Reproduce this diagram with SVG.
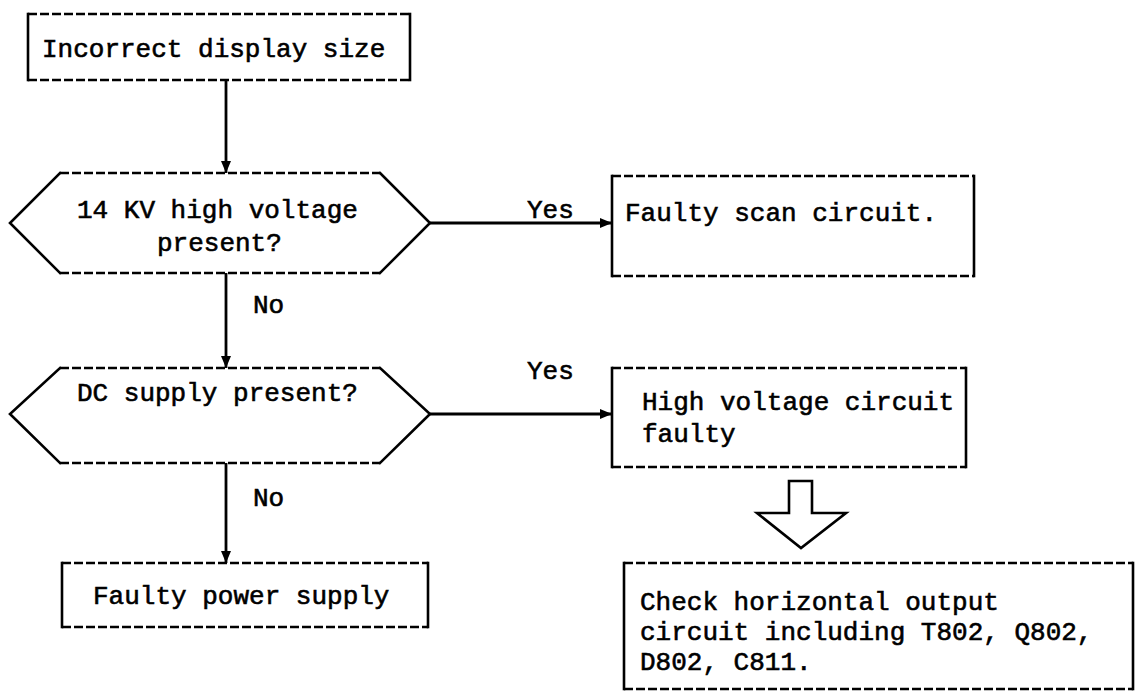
<svg xmlns="http://www.w3.org/2000/svg" width="1137" height="697" viewBox="0 0 1137 697">
  <style>
    .bg { fill: #ffffff; }
    .side { fill: none; stroke: #000; stroke-width: 2.6; stroke-linecap: square; }
    .dash { fill: none; stroke: #000; stroke-width: 2.6; stroke-dasharray: 9 3; }
    .edge { fill: none; stroke: #000; stroke-width: 2.8; }
    .hollow { fill: #fff; stroke: #000; stroke-width: 2.6; stroke-linejoin: miter; }
    text { font-family: "Liberation Mono", "DejaVu Sans Mono", monospace; font-size: 26px; fill: #000; stroke: #000; stroke-width: 0.6; }
  </style>
  <defs>
    <marker id="arrow" viewBox="0 0 12 10" refX="12" refY="5" markerWidth="12" markerHeight="10" markerUnits="userSpaceOnUse" orient="auto">
      <path d="M0,0 L12,5 L0,10 Z" fill="#000"/>
    </marker>
  </defs>

  <rect class="bg" x="0" y="0" width="1137" height="697"/>

  <!-- connectors -->
  <g id="connectors">
    <line class="edge" x1="226" y1="80" x2="226" y2="173" marker-end="url(#arrow)"/>
    <line class="edge" x1="430" y1="223" x2="612" y2="223" marker-end="url(#arrow)"/>
    <text x="527" y="218">Yes</text>
    <line class="edge" x1="226" y1="273" x2="226" y2="368" marker-end="url(#arrow)"/>
    <text x="253" y="313">No</text>
    <line class="edge" x1="430" y1="414" x2="612" y2="414" marker-end="url(#arrow)"/>
    <text x="527" y="379">Yes</text>
    <line class="edge" x1="226" y1="463" x2="226" y2="563" marker-end="url(#arrow)"/>
    <text x="253" y="506">No</text>
    <!-- hollow block arrow to the check step -->
    <polygon class="hollow" points="789,481 812,481 812,513 846,513 801,548 757,513 789,513"/>
  </g>

  <!-- start: incorrect display size -->
  <g id="start">
    <line class="dash" x1="28" y1="14" x2="410" y2="14"/>
    <line class="dash" x1="28" y1="80" x2="410" y2="80"/>
    <line class="side" x1="28" y1="14" x2="28" y2="80"/>
    <line class="side" x1="410" y1="14" x2="410" y2="80"/>
    <text x="42" y="57">Incorrect display size</text>
  </g>

  <!-- decision: 14 KV high voltage -->
  <g id="q-high-voltage">
    <line class="dash" x1="60" y1="173" x2="380" y2="173"/>
    <line class="dash" x1="60" y1="273" x2="380" y2="273"/>
    <polyline class="side" points="60,173 10,223 60,273"/>
    <polyline class="side" points="380,173 430,223 380,273"/>
    <text x="77" y="218">14 KV high voltage</text>
    <text x="157" y="251">present?</text>
  </g>

  <!-- result: faulty scan circuit -->
  <g id="faulty-scan">
    <line class="dash" x1="612" y1="176" x2="974" y2="176"/>
    <line class="dash" x1="612" y1="276" x2="974" y2="276"/>
    <line class="side" x1="612" y1="176" x2="612" y2="276"/>
    <line class="side" x1="974" y1="176" x2="974" y2="276"/>
    <text x="625" y="221">Faulty scan circuit.</text>
  </g>

  <!-- decision: DC supply -->
  <g id="q-dc-supply">
    <line class="dash" x1="60" y1="368" x2="380" y2="368"/>
    <line class="dash" x1="60" y1="463" x2="380" y2="463"/>
    <polyline class="side" points="60,368 10,414 60,463"/>
    <polyline class="side" points="380,368 430,414 380,463"/>
    <text x="77" y="401">DC supply present?</text>
  </g>

  <!-- result: high voltage circuit faulty -->
  <g id="hv-faulty">
    <line class="dash" x1="612" y1="368" x2="966" y2="368"/>
    <line class="dash" x1="612" y1="467" x2="966" y2="467"/>
    <line class="side" x1="612" y1="368" x2="612" y2="467"/>
    <line class="side" x1="966" y1="368" x2="966" y2="467"/>
    <text x="642" y="410">High voltage circuit</text>
    <text x="642" y="442">faulty</text>
  </g>

  <!-- result: faulty power supply -->
  <g id="power-faulty">
    <line class="dash" x1="62" y1="563" x2="428" y2="563"/>
    <line class="dash" x1="62" y1="627" x2="428" y2="627"/>
    <line class="side" x1="62" y1="563" x2="62" y2="627"/>
    <line class="side" x1="428" y1="563" x2="428" y2="627"/>
    <text x="93" y="604">Faulty power supply</text>
  </g>

  <!-- action: check horizontal output -->
  <g id="check-output">
    <line class="dash" x1="624" y1="563" x2="1133" y2="563"/>
    <line class="dash" x1="624" y1="689" x2="1133" y2="689"/>
    <line class="side" x1="624" y1="563" x2="624" y2="689"/>
    <line class="side" x1="1133" y1="563" x2="1133" y2="689"/>
    <text x="640" y="610">Check horizontal output</text>
    <text x="640" y="640">circuit including T802, Q802,</text>
    <text x="640" y="670">D802, C811.</text>
  </g>
</svg>
